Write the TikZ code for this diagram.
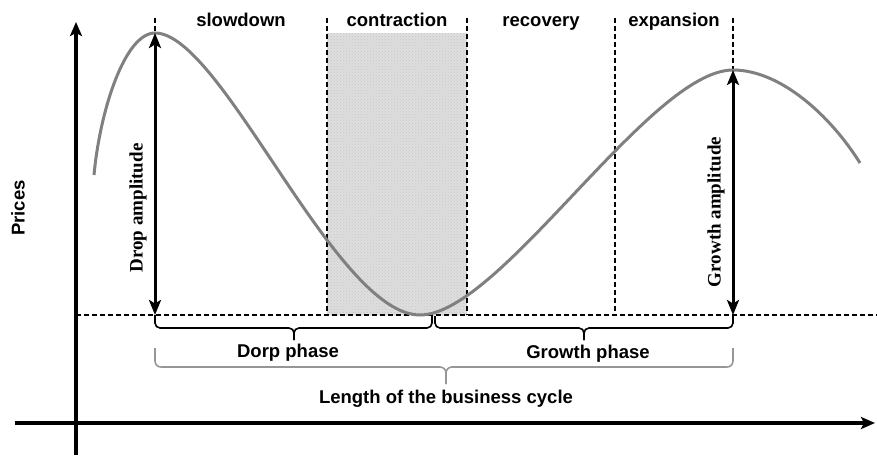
\documentclass[tikz,border=0pt]{standalone}
\usepackage{fontspec}
\setmainfont{Liberation Sans}
\newfontfamily\ampfont{Liberation Serif}
\usetikzlibrary{arrows.meta,patterns}

\definecolor{curvegray}{RGB}{128,128,128}
\definecolor{bracegray}{RGB}{150,150,150}
\definecolor{shadegray}{RGB}{222,222,222}

\begin{document}
\begin{tikzpicture}[x=1pt,y=-1pt,
  axisline/.style={line width=3.3pt,-{Stealth[length=14pt,width=12pt,inset=3pt]}},
  ampline/.style={line width=3pt,
    {Stealth[length=15pt,width=12pt,inset=3.5pt]}-{Stealth[length=15pt,width=12pt,inset=3.5pt]}},
  guide/.style={dash pattern=on 5pt off 3pt, line width=1.2pt},
  pricecurve/.style={draw=curvegray,line width=3pt},
  phaselabel/.style={font=\fontsize{18.5}{21}\selectfont\bfseries},
  amplabel/.style={font=\fontsize{19}{21}\ampfont\bfseries, rotate=90},
  phasebrace/.style={line width=1.6pt, rounded corners=5pt},
  cyclebrace/.style={line width=1.6pt, draw=bracegray, rounded corners=6pt},
]
\useasboundingbox (0,0) rectangle (877,455);

% key points of the cycle
\coordinate (peakA) at (155,33);
\coordinate (peakB) at (733,70);
\coordinate (baseA) at (155,315);
\coordinate (baseB) at (733,315);
\coordinate (trough) at (420,315);

% contraction band
\fill[shadegray] (327,33) rectangle (467,315);
\fill[pattern=crosshatch dots, pattern color=black!22] (327,33) rectangle (467,315);

% phase separators and the trough level
\coordinate (gTopA) at (155,18);
\coordinate (gTopB) at (327,18);
\coordinate (gTopC) at (467,18);
\coordinate (gTopD) at (615,18);
\coordinate (gTopE) at (733,18);
\coordinate (gBotB) at (327,315);
\coordinate (gBotC) at (467,315);
\coordinate (gBotD) at (615,315);
\coordinate (levelL) at (76,315);
\coordinate (levelR) at (877,315);
\draw[guide] (gTopA) -- (peakA);
\draw[guide] (gTopB) -- (gBotB);
\draw[guide] (gTopC) -- (gBotC);
\draw[guide] (gTopD) -- (gBotD);
\draw[guide] (gTopE) -- (peakB);
\draw[guide] (levelL) -- (levelR);

% price curve
\draw[pricecurve] (94,175) .. controls (100,110) and (125,33) .. (peakA)
  .. controls (222,33) and (335,315) .. (trough)
  .. controls (500,315) and (650,70) .. (peakB)
  .. controls (780,70) and (830,115) .. (860,163);

% amplitudes
\draw[ampline] (peakA) -- (baseA);
\draw[ampline] (peakB) -- (baseB);
\node[amplabel] (dropamp) at (138,208) {Drop amplitude};
\node[amplabel] (growamp) at (716,212) {Growth amplitude};

% axes
\coordinate (yBot) at (76,455);
\coordinate (yTop) at (76,22);
\coordinate (xLeft) at (15,423);
\coordinate (xRight) at (875,423);
\draw[axisline] (yBot) -- (yTop);
\draw[axisline] (xLeft) -- (xRight);
\node[phaselabel, rotate=90] (prices) at (18,208) {Prices};

% phase names
\node[phaselabel, anchor=base] (slow) at (241,26) {slowdown};
\node[phaselabel, anchor=base] (contr) at (397,26) {contraction};
\node[phaselabel, anchor=base] (recov) at (541,26) {recovery};
\node[phaselabel, anchor=base] (expan) at (674,26) {expansion};

% drop and growth phase brackets
\draw[phasebrace] (baseA) |- (294,328) -- (294,340);
\draw[phasebrace] (294,340) -- (294,328) -| (432,316);
\draw[phasebrace] (435,316) |- (584,328) -- (584,340);
\draw[phasebrace] (584,340) -- (584,328) -| (baseB);
\node[phaselabel, anchor=base] (dorp) at (288,357) {Dorp phase};
\node[phaselabel, anchor=base] (growth) at (588,358) {Growth phase};

% whole cycle bracket
\draw[cyclebrace] (155,348) |- (446,367) -- (446,384);
\draw[cyclebrace] (446,384) -- (446,367) -| (733,348);
\node[phaselabel, anchor=base] (length) at (446,403) {Length of the business cycle};
\end{tikzpicture}
\end{document}
